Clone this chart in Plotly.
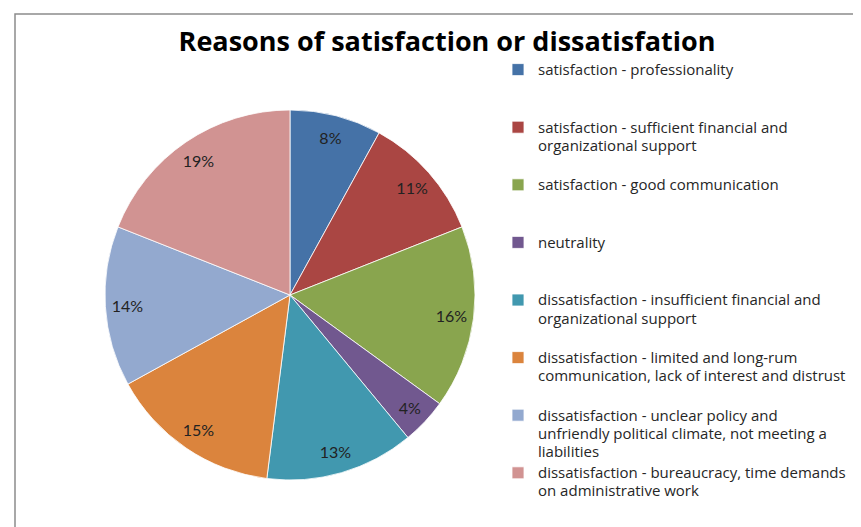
import plotly.graph_objects as go

labels = [
    "satisfaction - professionality",
    "satisfaction - sufficient financial and<br>organizational support",
    "satisfaction - good communication",
    "neutrality",
    "dissatisfaction - insufficient financial and<br>organizational support",
    "dissatisfaction - limited and long-rum<br>communication, lack of interest and distrust",
    "dissatisfaction - unclear policy and<br>unfriendly political climate, not meeting a<br>liabilities",
    "dissatisfaction - bureaucracy, time demands<br>on administrative work",
]
values = [8, 11, 16, 4, 13, 15, 14, 19]
colors = ["#4572A7", "#AA4643", "#89A54E", "#71588F",
          "#4198AF", "#DB843D", "#93A9CF", "#D19392"]

# pad legend entries to three lines so spacing is uniform
def pad(t):
    n = t.count("<br>") + 1
    return '<span style="font-size:15px">' + t + "</span>" + "<br> " * (3 - n)

legend_labels = [pad(t) for t in labels]

W, H = 861, 527
dom = dict(x=[97 / W, 467 / W], y=[(H - 472) / H, (H - 102) / H])

fig = go.Figure()
fig.add_trace(go.Pie(
    labels=legend_labels,
    values=values,
    sort=False,
    direction="clockwise",
    rotation=0,
    marker=dict(colors=colors, line=dict(color="white", width=0.8)),
    textinfo="none",
    domain=dom,
    hoverinfo="label+percent",
))
# label layer: same slices, transparent ring so percentages sit near the rim
fig.add_trace(go.Pie(
    labels=legend_labels,
    values=values,
    sort=False,
    direction="clockwise",
    rotation=0,
    hole=0.76,
    marker=dict(colors=["rgba(0,0,0,0)"] * len(values), line=dict(width=0)),
    textinfo="percent",
    textposition="inside",
    insidetextorientation="horizontal",
    textfont=dict(family="Lato, Open Sans, sans-serif", size=16, color="#222"),
    domain=dom,
    showlegend=False,
    hoverinfo="skip",
))

fig.update_layout(
    width=W, height=H,
    margin=dict(l=0, r=0, t=0, b=0, autoexpand=False),
    paper_bgcolor="white",
    title=dict(text="<b>Reasons of satisfaction or dissatisfation</b>",
               x=439 / W, xanchor="center", y=1 - 34 / H, yanchor="middle",
               font=dict(family="Open Sans, sans-serif", size=27, color="#000")),
    legend=dict(x=490 / W, xanchor="left", y=1 - 46 / H, yanchor="top",
                valign="top",
                font=dict(family="Open Sans, sans-serif", size=14, color="#262626"),
                bgcolor="rgba(0,0,0,0)", traceorder="normal"),
    shapes=[dict(type="rect", xref="paper", yref="paper",
                 x0=7 / W, x1=1.2, y0=-0.2, y1=1 - 6 / H,
                 line=dict(color="#8c8c8c", width=1.5))],
)

fig.write_html("out.html")
